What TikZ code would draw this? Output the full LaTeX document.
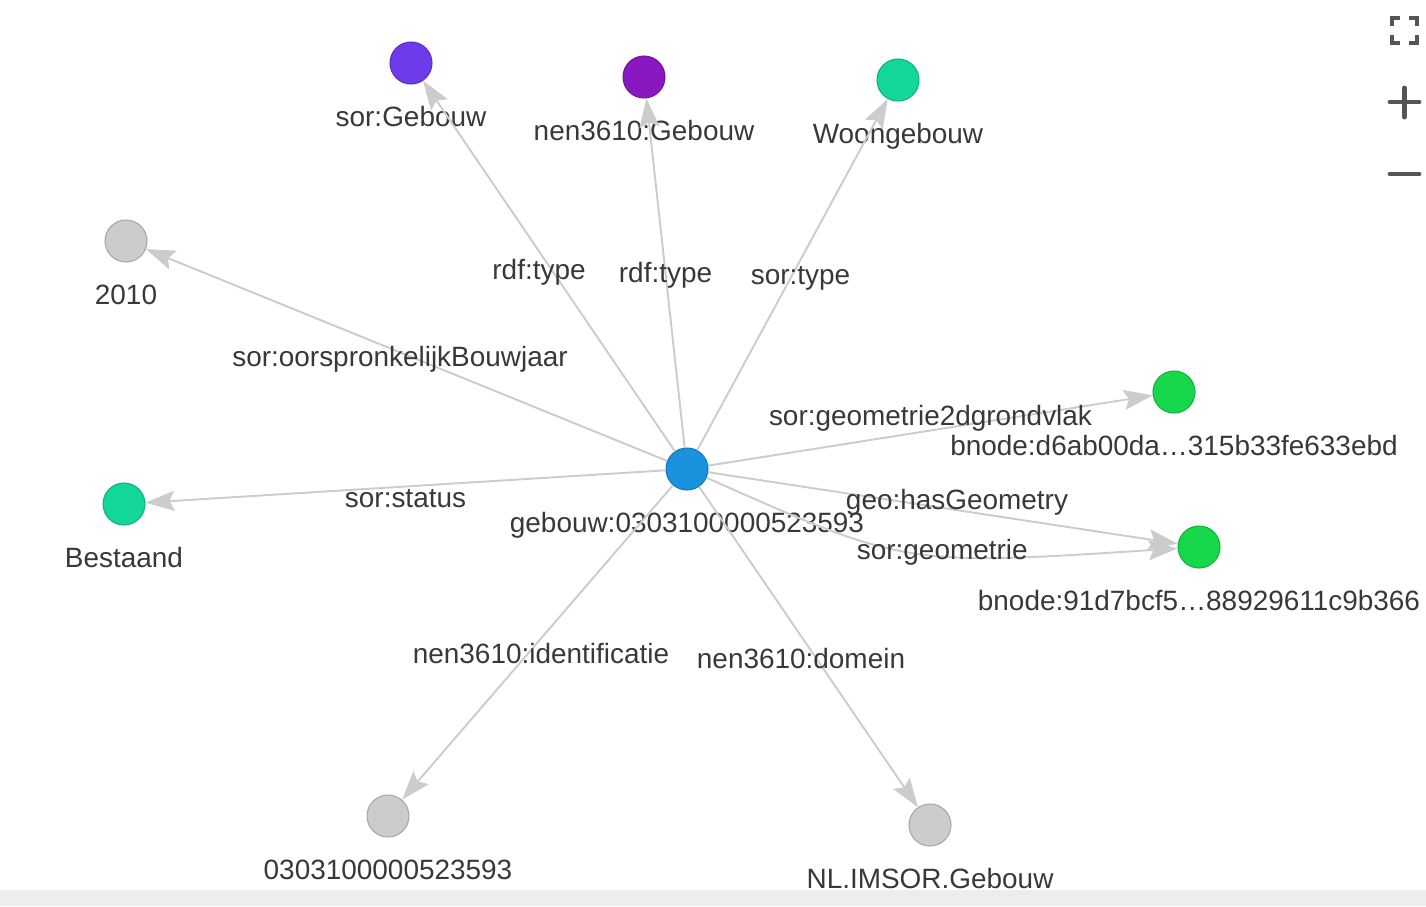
\documentclass[tikz,border=0pt]{standalone}
\usepackage{fontspec}
\setmainfont{Liberation Sans}
\usetikzlibrary{arrows.meta,positioning}
\definecolor{edgegray}{HTML}{CCCCCC}
\definecolor{txtgray}{HTML}{383838}
\definecolor{icongray}{HTML}{555555}
\definecolor{cblue}{HTML}{1A92DE}
\definecolor{cviolet}{HTML}{6E3BEA}
\definecolor{cpurple}{HTML}{8A18C0}
\definecolor{cteal}{HTML}{12D69A}
\definecolor{cgreen}{HTML}{16D84A}
\definecolor{cgray}{HTML}{CCCCCC}
\begin{document}
\begin{tikzpicture}[x=0.02cm,y=-0.02cm,
		vertex/.style={circle,draw=#1!82!black,fill=#1,line width=0.6pt,minimum size=0.84cm,inner sep=0pt},
		link/.style={draw=edgegray,line width=1.1pt,-{Stealth[length=0.58cm,width=0.4cm,inset=0.1cm]}},
		txt/.style={text=txtgray,font=\fontsize{15.9}{19}\selectfont,inner sep=0pt,text height=0.9em,text depth=0.02em,yshift=-0.04cm},
		vlabel/.style={txt,below=0.48cm of #1}]
		\useasboundingbox (0,0) rectangle (1426,906);
		\fill[black!7] (0,890) rectangle (1426,906);
		
		\node[vertex=cblue] (gebouw) at (687,469) {};
		\node[vertex=cviolet] (sorgeb) at (411,63) {};
		\node[vertex=cpurple] (nengeb) at (644,77) {};
		\node[vertex=cteal] (woon) at (898,80) {};
		\node[vertex=cgray] (jaar) at (126,241) {};
		\node[vertex=cteal] (status) at (124,504) {};
		\node[vertex=cgreen] (bnodeA) at (1174,392) {};
		\node[vertex=cgreen] (bnodeB) at (1199,547) {};
		\node[vertex=cgray] (ident) at (388,816) {};
		\node[vertex=cgray] (domein) at (930,825) {};
		
		\node[vlabel=gebouw] (gebouw-t) {gebouw:0303100000523593};
		\node[vlabel=sorgeb] (sorgeb-t) {sor:Gebouw};
		\node[vlabel=nengeb] (nengeb-t) {nen3610:Gebouw};
		\node[vlabel=woon] (woon-t) {Woongebouw};
		\node[vlabel=jaar] (jaar-t) {2010};
		\node[vlabel=status] (status-t) {Bestaand};
		\node[vlabel=bnodeA] (bnodeA-t) {bnode:d6ab00da…315b33fe633ebd};
		\node[vlabel=bnodeB] (bnodeB-t) {bnode:91d7bcf5…88929611c9b366};
		\node[vlabel=ident] (ident-t) {0303100000523593};
		\node[vlabel=domein] (domein-t) {NL.IMSOR.Gebouw};
		
		\draw[link] (gebouw) -- node[txt,xshift=-0.2cm,yshift=-0.08cm] {rdf:type} (sorgeb);
		\draw[link] (gebouw) -- node[txt] {rdf:type} (nengeb);
		\draw[link] (gebouw) -- node[txt,xshift=0.16cm] {sor:type} (woon);
		\draw[link] (gebouw) -- node[txt,xshift=-0.13cm,yshift=-0.04cm] {sor:oorspronkelijkBouwjaar} (jaar);
		\draw[link] (gebouw) -- node[txt,yshift=-0.22cm] {sor:status} (status);
		\draw[link] (gebouw) -- node[txt,yshift=0.3cm] {sor:geometrie2dgrondvlak} (bnodeA);
		\draw[link] (gebouw) -- node[txt,xshift=0.28cm,yshift=0.16cm] {geo:hasGeometry} (bnodeB);
		\draw[link] (gebouw) .. controls (905,566) .. node[txt,xshift=0.56cm,yshift=0.06cm] {sor:geometrie} (bnodeB);
		\draw[link] (gebouw) -- node[txt,xshift=0.07cm,yshift=-0.23cm] {nen3610:identificatie} (ident);
		\draw[link] (gebouw) -- node[txt,xshift=-0.15cm,yshift=-0.24cm] {nen3610:domein} (domein);
		
		\draw[icongray,line width=2.6pt] (1392,26)--(1392,18)--(1400,18) (1409,18)--(1417,18)--(1417,26) (1417,35)--(1417,43)--(1409,43) (1400,43)--(1392,43)--(1392,35);
		\draw[icongray,line width=2.8pt,line cap=round] (1390,102)--(1419,102) (1404.5,88)--(1404.5,117);
		\draw[icongray,line width=2.8pt,line cap=round] (1390,174)--(1419,174);
\end{tikzpicture}
\end{document}
